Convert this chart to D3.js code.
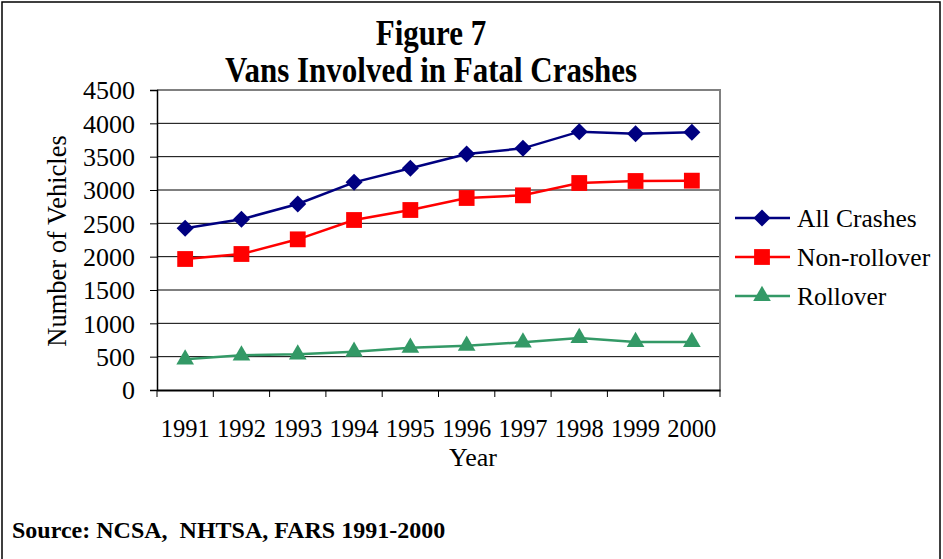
<!DOCTYPE html>
<html><head><meta charset="utf-8">
<script src="https://cdn.jsdelivr.net/npm/d3@7"></script>
<style>body{margin:0;background:#fff}svg{display:block}</style>
</head><body>
<svg id="c" width="943" height="559"></svg>
<script>
const years = ["1991","1992","1993","1994","1995","1996","1997","1998","1999","2000"];
const allCrashes = [2425,2560,2790,3115,3325,3540,3625,3875,3845,3865];
const nonRollover = [1965,2040,2260,2550,2700,2880,2920,3105,3135,3140];
const rollover = [460,520,535,575,635,665,715,780,720,720];
const yTicks = [0,500,1000,1500,2000,2500,3000,3500,4000,4500];
const seriesNames = ["All Crashes","Non-rollover","Rollover"];
const seriesColors = ["#000080","#FF0000","#339966"];
const series = [allCrashes, nonRollover, rollover];

const FONT = '"Liberation Serif","Times New Roman",serif';
const diamond = {draw(ctx, size){ const r=Math.sqrt(size)/2; ctx.moveTo(0,-r); ctx.lineTo(r,0); ctx.lineTo(0,r); ctx.lineTo(-r,0); ctx.closePath(); }};
const seriesSymbols = [diamond, d3.symbolSquare, d3.symbolTriangle];
const seriesSizes = [290, 250, 135];

const svg = d3.select("#c");
svg.append("rect").attr("x",2).attr("y",2).attr("width",938).attr("height",570)
  .attr("fill","none").attr("stroke","#000").attr("stroke-width",1.5);

const L=157,R=720,T=90,B=390;
const x = d3.scaleBand().domain(years).range([L,R]);
const y = d3.scaleLinear().domain([0,4500]).range([B,T]);

// gridlines
svg.append("g").selectAll("line").data(yTicks.filter(d=>d>0)).join("line")
  .attr("x1",L).attr("x2",R).attr("y1",d=>y(d)).attr("y2",d=>y(d))
  .attr("stroke","#000").attr("stroke-width",1);
// plot border top/right
svg.append("path").attr("d",`M${L},${T}H${R}V${B}`).attr("fill","none").attr("stroke","#808080").attr("stroke-width",2);

// y axis
const ya = svg.append("g").attr("transform",`translate(${L},0)`)
  .call(d3.axisLeft(y).tickValues(yTicks).tickSize(7).tickPadding(15).tickFormat(d3.format("d")));
ya.select(".domain").attr("stroke","#000").attr("stroke-width",1.5);
ya.selectAll(".tick line").attr("stroke","#000");
ya.selectAll("text").style("font-family",FONT).style("font-size","26px").attr("fill","#000").attr("dy","0.34em");

// x axis
const xa = svg.append("g").attr("transform",`translate(0,${B})`)
  .call(d3.axisBottom(x).tickSize(0).tickPadding(0));
xa.select(".domain").attr("stroke","#000").attr("stroke-width",2);
xa.selectAll("text").style("font-family",FONT).style("font-size","24.5px").attr("fill","#000")
  .attr("dy",null).attr("y",47);
const bounds = years.map(d=>x(d)).concat([R]);
svg.append("g").selectAll("line").data(bounds).join("line")
  .attr("x1",d=>d).attr("x2",d=>d).attr("y1",B).attr("y2",B+7).attr("stroke","#000");

// lines
const line = d3.line().x((d,i)=>x(years[i])+x.bandwidth()/2).y(d=>y(d));
series.forEach((s,k)=>{
  svg.append("path").datum(s).attr("d",line).attr("fill","none")
    .attr("stroke",seriesColors[k]).attr("stroke-width",2.5);
  svg.append("g").selectAll("path").data(s).join("path")
    .attr("transform",(d,i)=>`translate(${x(years[i])+x.bandwidth()/2},${y(d)})`)
    .attr("d",d3.symbol().type(seriesSymbols[k]).size(seriesSizes[k]))
    .attr("fill",seriesColors[k]);
});

function txt(t, tx, ty, size, opts={}){
  const e = svg.append("text").attr("transform",`translate(${tx},${ty})${opts.rot?` rotate(${opts.rot})`:""}${opts.sy?` scale(1,${opts.sy})`:""}`)
    .attr("text-anchor",opts.anchor||"middle")
    .style("font-family",FONT).style("font-size",size+"px").style("font-weight",opts.bold?"bold":"normal")
    .style("white-space","pre").attr("fill","#000").text(t);
  return e;
}
// titles
txt("Figure 7", 431, 45, 31, {bold:true, sy:1.15});
txt("Vans Involved in Fatal Crashes", 431, 82, 31, {bold:true, sy:1.15});
txt("Number of Vehicles", 66, 241, 26.5, {rot:-90});
txt("Year", 473, 466, 26);
txt("Source: NCSA,  NHTSA, FARS 1991-2000", 12, 538, 24, {bold:true, anchor:"start"});

// legend
const lg = svg.append("g");
seriesNames.forEach((n,k)=>{
  const yy = 218 + k*39;
  lg.append("line").attr("x1",735).attr("x2",790).attr("y1",yy).attr("y2",yy)
    .attr("stroke",seriesColors[k]).attr("stroke-width",2.5);
  lg.append("path").attr("transform",`translate(762,${yy})`)
    .attr("d",d3.symbol().type(seriesSymbols[k]).size(seriesSizes[k])).attr("fill",seriesColors[k]);
  txt(n, 797, yy+9, 25.5, {anchor:"start"});
});
</script>
</body></html>
